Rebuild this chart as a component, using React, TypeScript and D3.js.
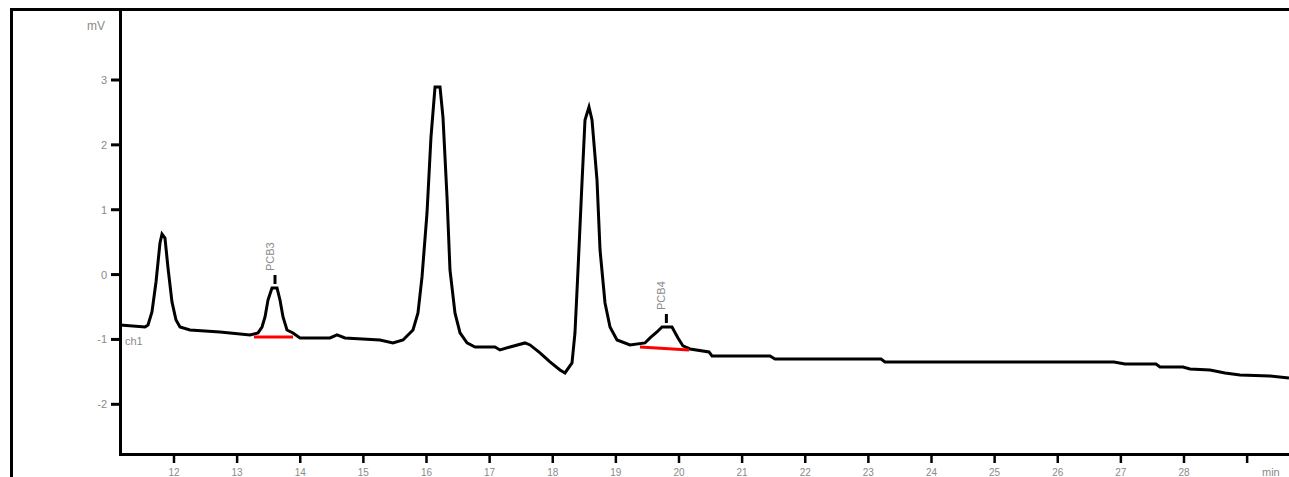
import React, { useEffect, useRef } from "react";
import * as d3 from "d3";

// retention time (min) and detector signal (mV)
const timeMin = [
  11.145, 11.541, 11.588, 11.651, 11.715, 11.778, 11.81, 11.857, 11.905, 11.968,
  12.032, 12.095, 12.253, 12.729, 13.204, 13.331, 13.394, 13.442, 13.489, 13.552,
  13.632, 13.679, 13.727, 13.79, 13.885, 13.996, 14.471, 14.582, 14.709, 15.263,
  15.469, 15.628, 15.786, 15.865, 15.929, 16.008, 16.071, 16.135, 16.214, 16.261,
  16.325, 16.372, 16.451, 16.531, 16.642, 16.768, 17.085, 17.164, 17.323, 17.56,
  17.64, 17.798, 17.956, 18.115, 18.194, 18.305, 18.352, 18.4, 18.463, 18.511,
  18.574, 18.622, 18.701, 18.749, 18.828, 18.907, 19.018, 19.224, 19.461, 19.541,
  19.651, 19.731, 19.889, 19.984, 20.063, 20.174, 20.475, 20.523, 21.442, 21.521,
  23.2, 23.263, 26.891, 27.065, 27.556, 27.62, 27.984, 28.095, 28.412, 28.65,
  28.887, 29.362, 29.663,
];
const signalMv = [
  -0.777, -0.808, -0.777, -0.577, -0.114, 0.487, 0.626, 0.564, 0.102, -0.422,
  -0.7, -0.808, -0.854, -0.885, -0.931, -0.9, -0.808, -0.654, -0.392, -0.207,
  -0.207, -0.392, -0.654, -0.854, -0.9, -0.977, -0.977, -0.931, -0.977, -1.008,
  -1.054, -1.008, -0.854, -0.592, -0.037, 0.95, 2.121, 2.892, 2.892, 2.428,
  1.196, 0.071, -0.592, -0.9, -1.054, -1.116, -1.116, -1.162, -1.116, -1.054,
  -1.085, -1.208, -1.347, -1.471, -1.517, -1.363, -0.9, 0.071, 1.412, 2.384,
  2.583, 2.384, 1.458, 0.379, -0.438, -0.808, -1.008, -1.085, -1.054, -0.977,
  -0.885, -0.808, -0.808, -0.977, -1.1, -1.147, -1.193, -1.255, -1.255, -1.301,
  -1.301, -1.347, -1.347, -1.378, -1.378, -1.425, -1.425, -1.455, -1.471, -1.517,
  -1.548, -1.563, -1.594,
];

const xTicks = [12, 13, 14, 15, 16, 17, 18, 19, 20, 21, 22, 23, 24, 25, 26, 27, 28, 29];
const xTickLabels = ["12", "13", "14", "15", "16", "17", "18", "19", "20", "21", "22", "23", "24", "25", "26", "27", "28", ""];
const yTicks = [-2, -1, 0, 1, 2, 3];

// integrated peaks: name, apex, and the drawn baseline
const peakNames = ["PCB3", "PCB4"];
const peakTime = [13.6, 19.8];
const peakApex = [-0.207, -0.808];
const baseFromTime = [13.267, 19.382];
const baseToTime = [13.885, 20.158];
const baseFromMv = [-0.962, -1.116];
const baseToMv = [-0.962, -1.162];

const W = 1289;
const H = 477;

export default function App() {
  const ref = useRef<SVGSVGElement>(null);

  useEffect(() => {
    const svg = d3.select(ref.current);
    svg.selectAll("*").remove();

    const left = 120.5, top = 9.5, bottom = 454.5, right = W;
    const x = d3.scaleLinear().domain([12, 28]).range([174, 1184]);
    const y = d3.scaleLinear().domain([-2, 3]).range([404.3, 80]);
    const font = "Liberation Sans, Arial, sans-serif";
    const grey = "#8a8a8a";

    // outer frame
    svg.append("path")
      .attr("d", `M11.5,${H} V9.5 H${W}`)
      .attr("fill", "none").attr("stroke", "#000").attr("stroke-width", 3);

    // axes
    svg.append("path")
      .attr("d", `M${left},${top} V${bottom} H${right}`)
      .attr("fill", "none").attr("stroke", "#000").attr("stroke-width", 3);

    const yg = svg.append("g");
    yTicks.forEach((t) => {
      yg.append("line")
        .attr("x1", 111).attr("x2", left).attr("y1", y(t)).attr("y2", y(t))
        .attr("stroke", "#000").attr("stroke-width", 3);
      yg.append("text")
        .attr("x", 107).attr("y", y(t) + 4)
        .attr("text-anchor", "end").attr("font-family", font).attr("font-size", 11)
        .attr("fill", grey).text(String(t));
    });
    svg.append("text")
      .attr("x", 105).attr("y", 30).attr("text-anchor", "end")
      .attr("font-family", font).attr("font-size", 12).attr("fill", grey).text("mV");

    const xg = svg.append("g");
    xTicks.forEach((t, i) => {
      xg.append("line")
        .attr("x1", x(t)).attr("x2", x(t)).attr("y1", bottom).attr("y2", 463)
        .attr("stroke", "#000").attr("stroke-width", 2.5);
      xg.append("text")
        .attr("x", x(t)).attr("y", 476).attr("text-anchor", "middle")
        .attr("font-family", font).attr("font-size", 10).attr("fill", grey)
        .text(xTickLabels[i]);
    });
    svg.append("text")
      .attr("x", 1262).attr("y", 476)
      .attr("font-family", font).attr("font-size", 11).attr("fill", grey).text("min");

    // trace
    const pts = timeMin.map((t, i) => [t, signalMv[i]] as [number, number]);
    svg.append("path")
      .datum(pts)
      .attr("fill", "none").attr("stroke", "#000").attr("stroke-width", 3)
      .attr("stroke-linejoin", "miter")
      .attr("d", d3.line<[number, number]>().x((d) => x(d[0])).y((d) => y(d[1])));

    svg.append("text")
      .attr("x", 125).attr("y", 345)
      .attr("font-family", font).attr("font-size", 11).attr("fill", grey).text("ch1");

    // peak baselines and names
    peakNames.forEach((name, i) => {
      svg.append("line")
        .attr("x1", x(baseFromTime[i])).attr("y1", y(baseFromMv[i]))
        .attr("x2", x(baseToTime[i])).attr("y2", y(baseToMv[i]))
        .attr("stroke", "#ff0000").attr("stroke-width", 3);
      const px = x(peakTime[i]);
      const py = y(peakApex[i]);
      svg.append("line")
        .attr("x1", px).attr("x2", px).attr("y1", py - 4).attr("y2", py - 13)
        .attr("stroke", "#000").attr("stroke-width", 3);
      svg.append("text")
        .attr("transform", `translate(${px - 1},${py - 17}) rotate(-90)`)
        .attr("font-family", font).attr("font-size", 11).attr("fill", grey)
        .text(name);
    });
  }, []);

  return (
    <svg
      ref={ref}
      width={W}
      height={H}
      style={{ position: "absolute", left: 0, top: 0, background: "#fff" }}
    />
  );
}
